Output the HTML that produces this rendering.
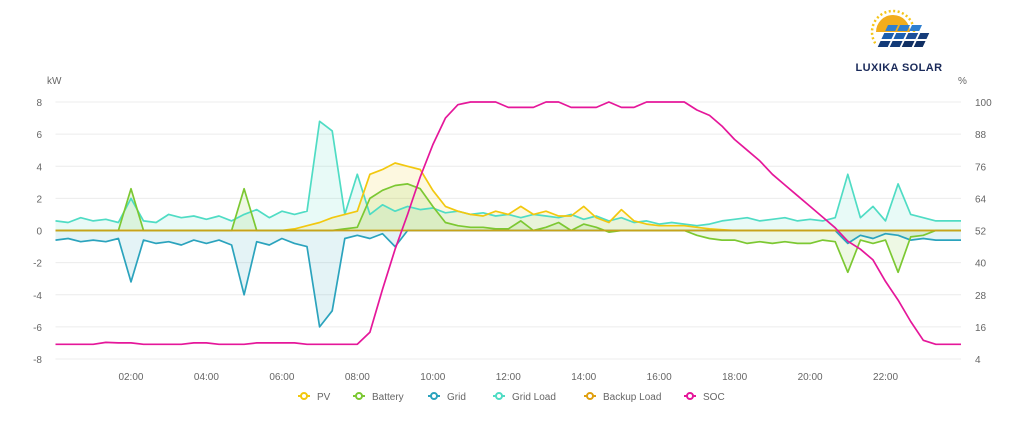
<!DOCTYPE html>
<html><head><meta charset="utf-8"><style>
body{margin:0;background:#fff;font-family:"Liberation Sans",sans-serif}
svg text{font-family:"Liberation Sans",sans-serif}
</style></head><body>
<svg id="c" width="1022" height="426">
<g>
 <circle cx="893" cy="32" r="17" fill="#f2ad1d"/>
 <circle cx="893" cy="32" r="21" fill="none" stroke="#f5c518" stroke-width="2.5" stroke-dasharray="2 2.5"/>
 <rect x="876" y="32" width="56" height="24" fill="#fff"/>
 <g transform="translate(878,25) skewX(-25)">
  <rect x="10" y="0" width="10" height="6" fill="#2f7fd0"/><rect x="22" y="0" width="10" height="6" fill="#2f7fd0"/><rect x="34" y="0" width="10" height="6" fill="#2f7fd0"/>
  <rect x="10" y="8" width="10" height="6" fill="#1b5fb0"/><rect x="22" y="8" width="10" height="6" fill="#1b5fb0"/><rect x="34" y="8" width="10" height="6" fill="#1b4f9a"/><rect x="46" y="8" width="9" height="6" fill="#163d7a"/>
  <rect x="10" y="16" width="10" height="6" fill="#123a78"/><rect x="22" y="16" width="10" height="6" fill="#123a78"/><rect x="34" y="16" width="10" height="6" fill="#102f63"/><rect x="46" y="16" width="9" height="6" fill="#102f63"/>
 </g>
 <text x="899" y="71" text-anchor="middle" font-size="11" font-weight="bold" fill="#1a2a5a" letter-spacing="0.4">LUXIKA SOLAR</text>
</g>
<text x="47" y="84" font-size="10" fill="#666">kW</text>
<text x="958" y="84" font-size="10" fill="#666">%</text>
<g id="grid"></g><g id="areas"></g><g id="lines"></g><g id="legend"></g>
</svg>
<script>
const hours=["02:00","04:00","06:00","08:00","10:00","12:00","14:00","16:00","18:00","20:00","22:00"];
const leftTicks=[8,6,4,2,0,-2,-4,-6,-8];
const rightTicks=[100,88,76,64,52,40,28,16,4];
const pv=[0,0,0,0,0,0,0,0,0,0,0,0,0,0,0,0,0,0,0,0.1,0.3,0.5,0.8,1.0,1.2,3.5,3.8,4.2,4.0,3.8,2.5,1.5,1.2,1.0,0.9,1.2,1.0,1.5,1.0,1.2,0.9,0.9,1.5,0.8,0.5,1.3,0.6,0.4,0.3,0.3,0.3,0.2,0.1,0.05,0,0,0,0,0,0,0,0,0,0,0,0,0,0,0,0,0,0,0];
const battery=[0,0,0,0,0,0,2.6,0,0,0,0,0,0,0,0,2.6,0,0,0,0,0,0,0,0.1,0.2,2.0,2.5,2.8,2.9,2.6,1.5,0.5,0.3,0.2,0.2,0.1,0.1,0.6,0,0.2,0.5,0,0.4,0.2,-0.1,0,0,0,0,0,0,-0.3,-0.5,-0.6,-0.6,-0.8,-0.7,-0.8,-0.7,-0.8,-0.8,-0.6,-0.7,-2.6,-0.6,-0.8,-0.6,-2.6,-0.4,-0.3,0,0,0];
const gridPower=[-0.6,-0.5,-0.7,-0.6,-0.7,-0.5,-3.2,-0.6,-0.8,-0.7,-0.9,-0.6,-0.8,-0.6,-0.9,-4.0,-0.7,-0.9,-0.5,-0.8,-1.0,-6.0,-5.0,-0.5,-0.3,-0.5,-0.2,-1.0,0,0,0,0,0,0,0,0,0,0,0,0,0,0,0,0,0,0,0,0,0,0,0,0,0,0,0,0,0,0,0,0,0,0,0,-0.8,-0.3,-0.5,-0.2,-0.3,-0.6,-0.5,-0.6,-0.6,-0.6];
const gridLoad=[0.6,0.5,0.8,0.6,0.7,0.5,2.0,0.6,0.5,1.0,0.8,0.9,0.7,0.9,0.6,1.0,1.3,0.8,1.2,1.0,1.2,6.8,6.2,1.0,3.5,1.0,1.6,1.2,1.5,1.3,1.4,1.1,1.2,1.0,1.1,0.9,1.0,0.8,1.0,0.9,0.8,1.0,0.7,0.9,0.6,0.8,0.5,0.6,0.4,0.5,0.4,0.3,0.4,0.6,0.7,0.8,0.6,0.7,0.8,0.6,0.7,0.6,0.8,3.5,0.8,1.5,0.6,2.9,1.0,0.8,0.6,0.6,0.6];
const backupLoad=new Array(73).fill(0);
const soc=[9.5,9.5,9.5,9.5,10.2,10,10,9.5,9.5,9.5,9.5,10,10,9.5,9.5,9.5,10,10,10,10,9.5,9.5,9.5,9.5,9.5,14,30,45,58,72,84,94,99,100,100,100,98,98,98,100,100,98,98,98,100,98,98,100,100,100,100,97,95,91,86,82,78,73,69,65,61,57,53,48,45,41,33,26,18,11,9.5,9.5,9.5];
const NS="http://www.w3.org/2000/svg";
const X0=55.5,X1=961,YT=102,YB=359;
const xh=h=>X0+h/24*(X1-X0);
const yl=v=>YT+(8-v)/16*(YB-YT);
const yr=v=>YT+(100-v)/96*(YB-YT);
function mk(tag,parent){const e=document.createElementNS(NS,tag);document.getElementById(parent).appendChild(e);return e;}
leftTicks.forEach((t,i)=>{
 const l=mk('line','grid');l.setAttribute('x1',X0);l.setAttribute('x2',X1);l.setAttribute('y1',yl(t));l.setAttribute('y2',yl(t));l.setAttribute('stroke','#ececec');
 
 
 const a=mk('text','grid');a.setAttribute('x',42);a.setAttribute('y',yl(t)+4);a.setAttribute('text-anchor','end');a.setAttribute('font-size','10');a.setAttribute('fill','#666');a.textContent=t;
 
 
 const b=mk('text','grid');b.setAttribute('x',975);b.setAttribute('y',yr(rightTicks[i])+4);b.setAttribute('font-size','10');b.setAttribute('fill','#666');b.textContent=rightTicks[i];
 
 
});
hours.forEach((h,i)=>{
 const t=mk('text','grid');t.setAttribute('x',xh((i+1)*2));t.setAttribute('y',380);t.setAttribute('text-anchor','middle');t.setAttribute('font-size','10');t.setAttribute('fill','#666');t.textContent=h;
 
 
});
function series(arr,col,name,yf,fill){
 const pts=arr.map((v,i)=>[xh(i/3),yf(v)]);
 const d=pts.map((p,i)=>(i?'L':'M')+p[0].toFixed(1)+','+p[1].toFixed(1)).join('');
 if(fill){const a=mk('path','areas');a.setAttribute('d',d+'L'+xh(24)+','+yl(0)+'L'+X0+','+yl(0)+'Z');a.setAttribute('fill',col);a.setAttribute('fill-opacity','0.13');
  
  }
 const p=mk('path','lines');p.setAttribute('d',d);p.setAttribute('fill','none');p.setAttribute('stroke',col);p.setAttribute('stroke-width','1.7');p.setAttribute('stroke-linejoin','round');
 
 
}
series(gridLoad,'#4fdcc4','grid-load',yl,true);
series(gridPower,'#2ba3bd','grid',yl,true);
series(pv,'#f2c80f','pv',yl,true);
series(battery,'#7cc832','battery',yl,true);
series(backupLoad,'#c9a21a','backup-load',yl,false);
series(soc,'#e5179a','soc',yr,false);
const leg=[['PV','#f2c80f',304],['Battery','#7cc832',359],['Grid','#2ba3bd',434],['Grid Load','#4fdcc4',499],['Backup Load','#e0a010',590],['SOC','#e5179a',690]];
leg.forEach(([n,c,x])=>{
 const g=mk('g','legend');
 
 
 g.innerHTML=`<line x1="${x-6}" x2="${x+6}" y1="396" y2="396" stroke="${c}" stroke-width="2"/><circle cx="${x}" cy="396" r="3" fill="#fff" stroke="${c}" stroke-width="2"/><text x="${x+13}" y="400" font-size="10" fill="#666">${n}</text>`;
});
</script>
</body></html>
